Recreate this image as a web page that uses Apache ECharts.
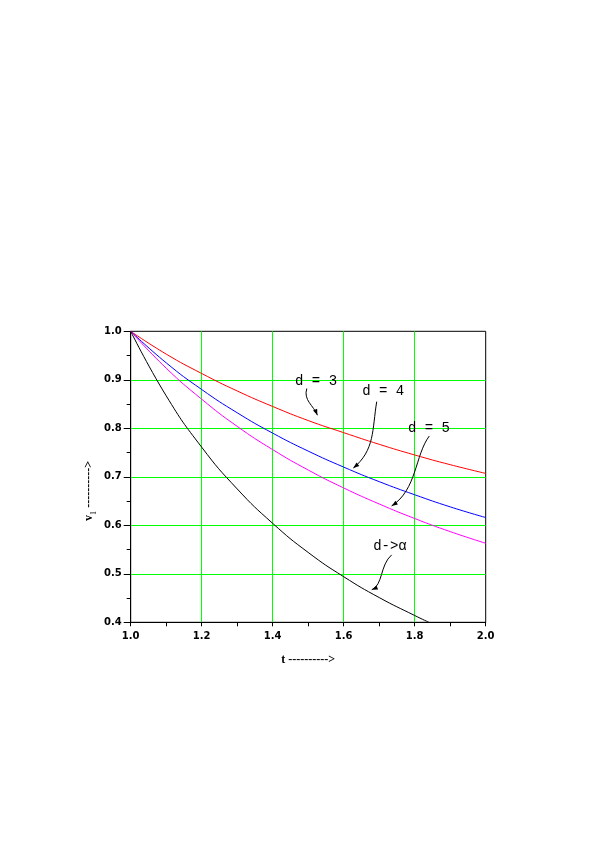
<!DOCTYPE html>
<html>
<head>
<meta charset="utf-8">
<script src="https://cdn.jsdelivr.net/npm/echarts@6/dist/echarts.min.js"></script>
<style>
  html, body { margin: 0; padding: 0; background: #fff; }
  #chart { width: 595px; height: 842px; }
</style>
</head>
<body>
<div id="chart"></div>
<script>
// values
const tValues = [1.0, 1.1, 1.2, 1.3, 1.4, 1.5, 1.6, 1.7, 1.8, 1.9, 2.0];
const vD3 = [1.000, 0.953, 0.913, 0.877, 0.845, 0.816, 0.791, 0.767, 0.745, 0.725, 0.707];
const vD4 = [1.000, 0.935, 0.880, 0.832, 0.790, 0.753, 0.720, 0.690, 0.663, 0.638, 0.616];
const vD5 = [1.000, 0.924, 0.860, 0.804, 0.756, 0.714, 0.677, 0.644, 0.614, 0.587, 0.563];
const tInf = [1.0, 1.1, 1.2, 1.3, 1.4, 1.5, 1.6, 1.7, 1.8, 1.84];
const vInf = [1.000, 0.867, 0.761, 0.675, 0.604, 0.544, 0.494, 0.451, 0.414, 0.400];

const seriesNames = ['d = 3', 'd = 4', 'd = 5', 'd->\u03b1'];
const seriesColors = ['#ff0000', '#0000ff', '#ff00ff', '#000000'];

// annotation label anchors (left-middle) and arrows [start, cp1, cp2, end], in data units
const labelAnchors = [[1.463, 0.897], [1.652, 0.877], [1.781, 0.799], [1.683, 0.556]];
const arrowPaths = [
  [[1.496, 0.882], [1.486, 0.858], [1.514, 0.848], [1.526, 0.827]],
  [[1.693, 0.855], [1.680, 0.797], [1.688, 0.755], [1.627, 0.718]],
  [[1.841, 0.784], [1.801, 0.745], [1.806, 0.673], [1.735, 0.640]],
  [[1.735, 0.539], [1.702, 0.518], [1.711, 0.477], [1.679, 0.467]]
];

const pairs = (xs, ys) => xs.map((x, i) => [x, ys[i]]);

const chart = echarts.init(document.getElementById('chart'));

const tickFont = { fontFamily: 'DejaVu Sans', fontWeight: 'bold', fontSize: 10, color: '#000' };

chart.setOption({
  animation: false,
  backgroundColor: '#fff',
  grid: {
    left: 130.7, top: 331.3, width: 355, height: 291,
    show: true, borderColor: '#000', borderWidth: 1
  },
  xAxis: {
    type: 'value', min: 1.0, max: 2.0, interval: 0.2,
    axisLine: { onZero: false, lineStyle: { color: '#000', width: 1 } },
    axisTick: { length: 4, lineStyle: { color: '#000' } },
    minorTick: { show: true, splitNumber: 2, length: 4, lineStyle: { color: '#000' } },
    splitLine: { show: true, showMinLine: false, showMaxLine: false, lineStyle: { color: '#00ff00', width: 1 } },
    axisLabel: Object.assign({ margin: 9, formatter: v => v.toFixed(1) }, tickFont),
    name: 't ---------->',
    nameLocation: 'middle',
    nameGap: 32,
    nameTextStyle: { fontFamily: 'Liberation Serif', fontWeight: 'bold', fontSize: 12, color: '#000' }
  },
  yAxis: {
    type: 'value', min: 0.4, max: 1.0, interval: 0.1,
    axisLine: { onZero: false, lineStyle: { color: '#000', width: 1 } },
    axisTick: { length: 7, lineStyle: { color: '#000' } },
    minorTick: { show: true, splitNumber: 2, length: 4, lineStyle: { color: '#000' } },
    splitLine: { show: true, showMinLine: false, showMaxLine: false, lineStyle: { color: '#00ff00', width: 1 } },
    axisLabel: Object.assign({ margin: 9, formatter: v => v.toFixed(1) }, tickFont)
  },
  series: [
    { name: seriesNames[0], type: 'line', data: pairs(tValues, vD3) },
    { name: seriesNames[1], type: 'line', data: pairs(tValues, vD4) },
    { name: seriesNames[2], type: 'line', data: pairs(tValues, vD5) },
    { name: seriesNames[3], type: 'line', data: pairs(tInf, vInf) }
  ].map((s, i) => Object.assign(s, {
    smooth: true, symbol: 'none', z: 5,
    lineStyle: { color: seriesColors[i], width: 1 }
  }))
});

// annotations: labels, curved arrows with small heads
const px = p => chart.convertToPixel({ gridIndex: 0 }, p);
const graphics = [];

seriesNames.forEach((name, i) => {
  const a = px(labelAnchors[i]);
  graphics.push({
    type: 'text', x: a[0], y: a[1], z: 10,
    style: { text: name, font: '14px "Liberation Mono"', fill: '#000', align: 'left', verticalAlign: 'middle' }
  });
  const [s, c1, c2, e] = arrowPaths[i].map(px);
  graphics.push({
    type: 'bezierCurve', z: 10,
    shape: { x1: s[0], y1: s[1], cpx1: c1[0], cpy1: c1[1], cpx2: c2[0], cpy2: c2[1], x2: e[0], y2: e[1] },
    style: { stroke: '#000', lineWidth: 1, fill: null }
  });
  const dx = e[0] - c2[0], dy = e[1] - c2[1];
  const len = Math.hypot(dx, dy) || 1;
  const ux = dx / len, uy = dy / len;
  const bx = e[0] - ux * 6, by = e[1] - uy * 6;
  graphics.push({
    type: 'polygon', z: 10,
    shape: { points: [[e[0], e[1]], [bx - uy * 2.2, by + ux * 2.2], [bx + uy * 2.2, by - ux * 2.2]] },
    style: { fill: '#000' }
  });
});

// rotated y-axis name with subscript
graphics.push({
  type: 'text', x: 89, y: 491, rotation: Math.PI / 2, z: 10,
  style: {
    text: '{v|v}{s|1} {d|---------->}',
    align: 'center', verticalAlign: 'middle',
    rich: {
      v: { fontFamily: 'Liberation Serif', fontWeight: 'bold', fontSize: 12, lineHeight: 18, verticalAlign: 'middle', fill: '#000' },
      s: { fontFamily: 'Liberation Serif', fontSize: 8, lineHeight: 18, verticalAlign: 'bottom', fill: '#000' },
      d: { fontFamily: 'Liberation Serif', fontWeight: 'bold', fontSize: 12, lineHeight: 18, verticalAlign: 'middle', fill: '#000' }
    }
  }
});

chart.setOption({ graphic: graphics });
</script>
</body>
</html>
